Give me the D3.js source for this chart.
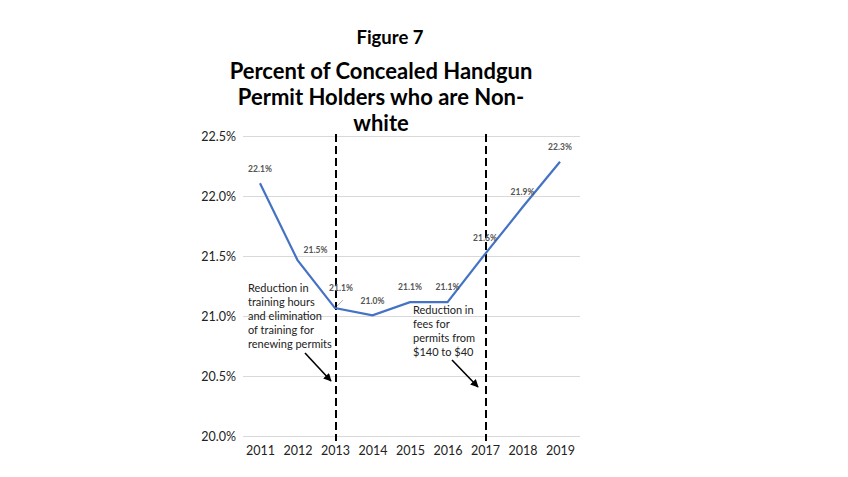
<!DOCTYPE html>
<html><head><meta charset="utf-8">
<script src="https://cdn.jsdelivr.net/npm/d3@7"></script>
<style>body{margin:0;background:#fff;}svg{display:block;}</style>
</head><body>
<script>
const years = [2011,2012,2013,2014,2015,2016,2017,2018,2019];
const values = [22.11,21.47,21.07,21.01,21.12,21.12,21.52,21.91,22.29];
const labels = ["22.1%","21.5%","21.1%","21.0%","21.1%","21.1%","21.6%","21.9%","22.3%"];
const yTicks = [20.0,20.5,21.0,21.5,22.0,22.5];
const titleLines = ["Percent of Concealed Handgun","Permit Holders who are Non-","white"];
const note1 = ["Reduction in","training hours","and elimination","of training for","renewing permits"];
const note2 = ["Reduction in","fees for","permits from","$140 to $40"];
const markYears = [2013,2017];

const W=848,H=477;
const svg=d3.select("body").append("svg").attr("width",W).attr("height",H);
const font="Lato, 'Open Sans', sans-serif";
const x=d3.scalePoint().domain(years).range([260,560]);
const y=d3.scaleLinear().domain([20,22.5]).range([436.5,136.5]);
// label offsets (styling only)
const labelDx=[0,18,6,0,0,0,0,0,0];
const labelDy=[-11,-7,-17,-11,-12,-12,-13,-12,-12];

svg.append("text").attr("x",390).attr("y",44).attr("text-anchor","middle")
 .attr("font-family",font).attr("font-weight","bold").attr("font-size",18.5).text("Figure 7");
titleLines.forEach((t,i)=>svg.append("text").attr("x",381).attr("y",79+i*26).attr("text-anchor","middle")
 .attr("font-family",font).attr("font-weight","bold").attr("font-size",22).text(t));

// grid
svg.append("g").selectAll("line").data(yTicks).join("line")
 .attr("x1",243).attr("x2",580).attr("y1",d=>y(d)).attr("y2",d=>y(d))
 .attr("stroke","#d9d9d9").attr("stroke-width",1);

// y axis
const ya=svg.append("g").attr("transform","translate(243,0)")
 .call(d3.axisLeft(y).tickValues(yTicks).tickSize(0).tickPadding(7).tickFormat(d=>d.toFixed(1)+"%"));
ya.select(".domain").remove();
ya.selectAll("text").attr("font-family",font).attr("font-size",12.5).attr("fill","#222");

// x axis
const xa=svg.append("g").attr("transform","translate(0,436.5)")
 .call(d3.axisBottom(x).tickSize(0).tickPadding(10).tickFormat(d=>String(d)));
xa.select(".domain").remove();
xa.selectAll("text").attr("font-family",font).attr("font-size",12.5).attr("fill","#222");

// dashed lines
svg.append("g").selectAll("line").data(markYears).join("line")
 .attr("x1",d=>x(d)+1).attr("x2",d=>x(d)+1).attr("y1",134).attr("y2",441)
 .attr("stroke","#000").attr("stroke-width",2).attr("stroke-dasharray","8,4");

// line
svg.append("path").datum(years.map((d,i)=>[d,values[i]]))
 .attr("d",d3.line().x(d=>x(d[0])).y(d=>y(d[1])))
 .attr("fill","none").attr("stroke","#4472C4").attr("stroke-width",2.2);

// leader for 2013 label
svg.append("line").attr("x1",x(2013)+2).attr("y1",y(values[2])-2).attr("x2",x(2013)+8).attr("y2",y(values[2])-8)
 .attr("stroke","#aaa").attr("stroke-width",1);

// data labels
svg.append("g").selectAll("text").data(years).join("text")
 .attr("x",(d,i)=>x(d)+labelDx[i]).attr("y",(d,i)=>y(values[i])+labelDy[i]).attr("text-anchor","middle")
 .attr("font-family",font).attr("font-weight","bold").attr("font-size",8.5).attr("fill","#555")
 .text((d,i)=>labels[i]);

// notes
function note(lines,x0,y0){
  const t=svg.append("text").attr("font-family",font).attr("font-size",11).attr("fill","#222");
  lines.forEach((l,i)=>t.append("tspan").attr("x",x0).attr("y",y0+i*14).text(l));
}
note(note1,248,292);
note(note2,413,314);

svg.append("defs").append("marker").attr("id","ah").attr("viewBox","0 0 10 10").attr("refX",9).attr("refY",5)
 .attr("markerWidth",5).attr("markerHeight",5).attr("orient","auto")
 .append("path").attr("d","M0,0L10,5L0,10z").attr("fill","#000");
svg.append("line").attr("x1",305).attr("y1",353).attr("x2",331).attr("y2",381)
 .attr("stroke","#000").attr("stroke-width",1.6).attr("marker-end","url(#ah)");
svg.append("line").attr("x1",452).attr("y1",360).attr("x2",478).attr("y2",387)
 .attr("stroke","#000").attr("stroke-width",1.6).attr("marker-end","url(#ah)");
</script>
</body></html>
